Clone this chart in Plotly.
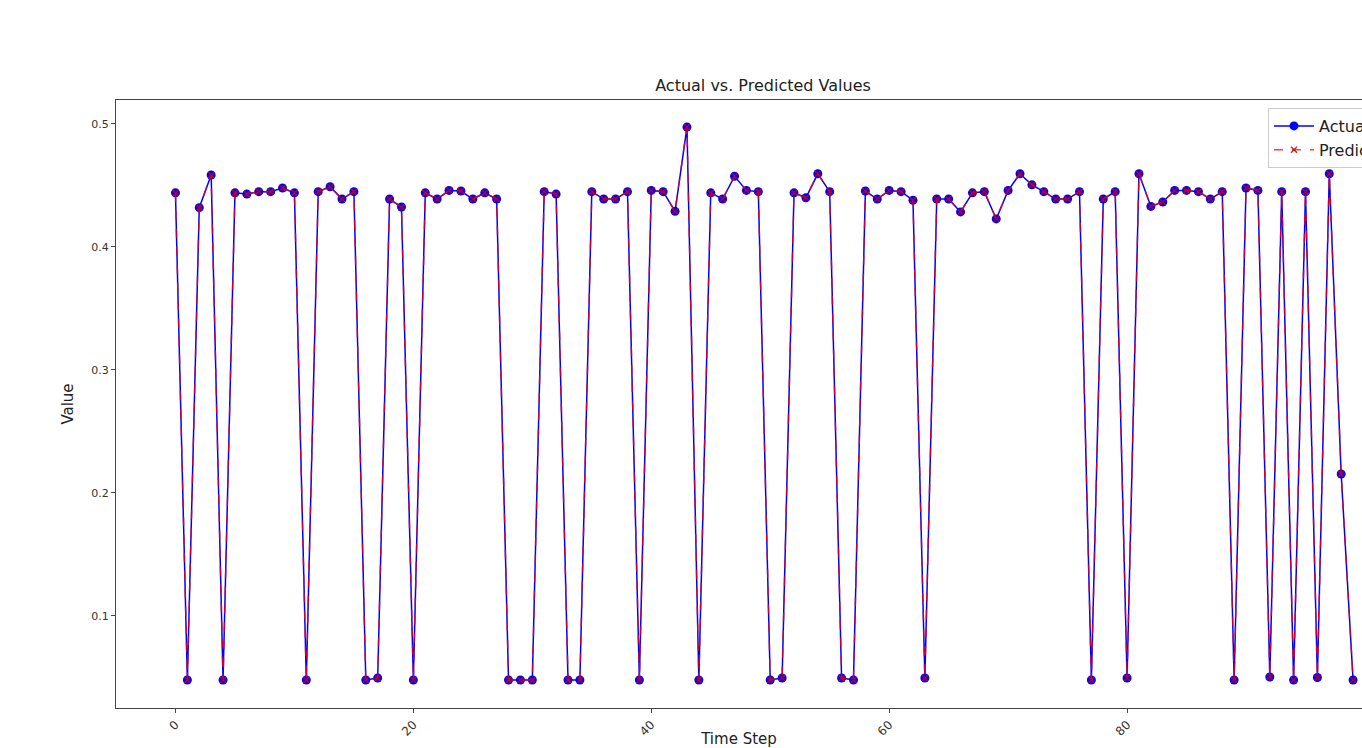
import plotly.graph_objects as go

time_step = list(range(100))
actual = [0.444, 0.048, 0.432, 0.4585, 0.048, 0.444, 0.443, 0.445, 0.445, 0.448,
          0.444, 0.048, 0.445, 0.449, 0.439, 0.445, 0.048, 0.0496, 0.439, 0.4325,
          0.048, 0.444, 0.439, 0.446, 0.4455, 0.439, 0.444, 0.439, 0.048, 0.048,
          0.048, 0.445, 0.443, 0.048, 0.048, 0.445, 0.439, 0.439, 0.445, 0.048,
          0.446, 0.445, 0.429, 0.4975, 0.048, 0.444, 0.439, 0.4575, 0.446, 0.445,
          0.048, 0.0496, 0.444, 0.440, 0.4595, 0.445, 0.0496, 0.048, 0.4455, 0.439,
          0.446, 0.445, 0.438, 0.0496, 0.439, 0.439, 0.4285, 0.444, 0.445, 0.4228,
          0.446, 0.4595, 0.4505, 0.445, 0.439, 0.439, 0.445, 0.048, 0.439, 0.445,
          0.0496, 0.4595, 0.433, 0.4366, 0.446, 0.446, 0.445, 0.439, 0.445, 0.048,
          0.448, 0.446, 0.0504, 0.445, 0.048, 0.445, 0.050, 0.4595, 0.2154, 0.048]
predicted = list(actual)

x_ticks = [0, 20, 40, 60, 80]
y_ticks = [0.1, 0.2, 0.3, 0.4, 0.5]

fig = go.Figure()
fig.add_trace(go.Scatter(
    x=time_step, y=actual, name="Actual", mode="lines+markers",
    line=dict(color="#0000ff", width=1.5),
    marker=dict(symbol="circle", size=9, color="#0000ff"),
))
fig.add_trace(go.Scatter(
    x=time_step, y=predicted, name="Predicted", mode="lines+markers",
    line=dict(color="rgba(255,0,0,0.75)", width=1.5, dash="dash"),
    marker=dict(symbol="x-thin", size=6, line=dict(color="rgba(200,0,0,0.85)", width=1.5)),
))

axis_color = "#444444"
fig.update_layout(
    width=1362, height=748,
    margin=dict(l=116, r=0, t=100, b=40, autoexpand=False),
    paper_bgcolor="white", plot_bgcolor="white",
    font=dict(family="DejaVu Sans", color="#222222"),
    title=dict(text="Actual vs. Predicted Values", x=(763 / 1362), xanchor="center",
               y=1 - 85 / 748, yanchor="middle", font=dict(size=16, color="#222222")),
    showlegend=True,
    legend=dict(x=(1268 - 116) / 1246, y=(708 - 108) / 608, xanchor="left", yanchor="top",
                bgcolor="rgba(255,255,255,0.9)", bordercolor="#cccccc", borderwidth=1,
                font=dict(size=16, color="#222222"), itemwidth=40, tracegroupgap=2),
    xaxis=dict(
        range=[-5, 99.75], tickmode="array", tickvals=x_ticks,
        ticktext=[str(v) for v in x_ticks], tickangle=-45, automargin=False,
        showgrid=False, zeroline=False, showline=True, linecolor=axis_color,
        linewidth=1, mirror=True, ticks="outside", ticklen=4, tickcolor=axis_color,
        tickfont=dict(size=12, color="#333333"),
        title=dict(text="Time Step", font=dict(size=15, color="#222222"), standoff=8),
    ),
    yaxis=dict(
        range=[0.0252, 0.5195], tickmode="array", tickvals=y_ticks,
        ticktext=[f"{v:.1f}" for v in y_ticks], automargin=False,
        showgrid=False, zeroline=False, showline=True, linecolor=axis_color,
        linewidth=1, mirror=False, ticks="outside", ticklen=4, tickcolor=axis_color,
        tickfont=dict(size=11, color="#333333"),
        title=dict(text="Value", font=dict(size=15, color="#222222"), standoff=14),
    ),
)

fig.write_html(
    "out.html",
    config={"displayModeBar": False},
    post_script="document.body.style.margin='0';document.body.style.overflow='hidden';",
)
